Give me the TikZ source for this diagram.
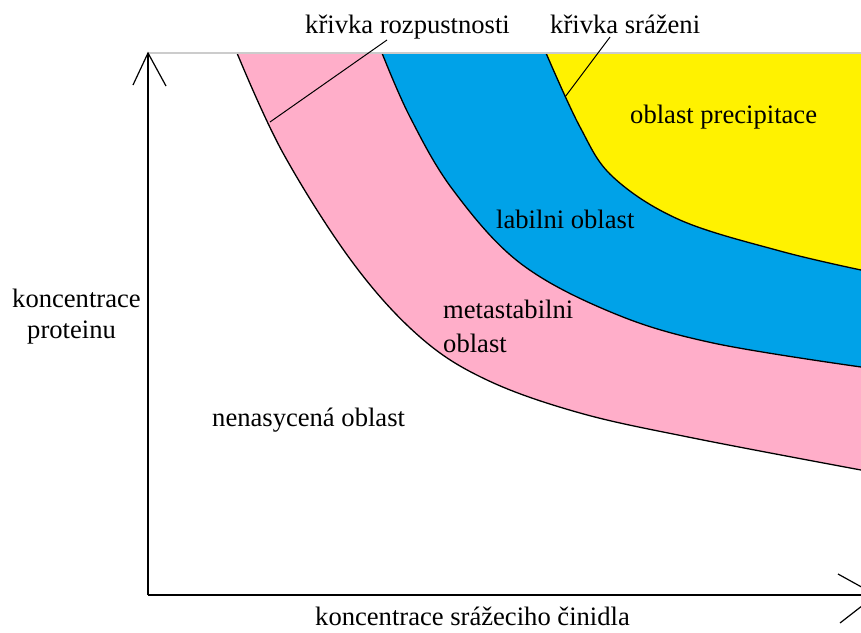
\documentclass[tikz,border=0pt]{standalone}
\usepackage{fontspec}
\setmainfont{Liberation Serif}
\definecolor{rosefill}{RGB}{255,174,201}
\definecolor{bluefill}{RGB}{0,162,232}
\definecolor{yellowfill}{RGB}{255,242,0}
\begin{document}
\begin{tikzpicture}[x=1pt,y=-1pt,
  lbl/.style={anchor=base west,inner sep=0pt,font=\fontsize{26.6}{30}\selectfont},
  boundary/.style={draw=black,line width=1.3pt},
  axisline/.style={draw=black,line width=1.8pt},
  leader/.style={draw=black,line width=1pt}]
\useasboundingbox (0,0) rectangle (861,632);
\def\curveA{(237,53) (283,153) (353,263) (420,337) (487,380) (580,413) (693,438) (861,470)}
\def\curveB{(382,53) (410,117) (453,190) (520,263) (613,313) (713,343) (861,367)}
\def\curveC{(546,53) (580,127) (613,177) (680,220) (780,251) (861,270)}
\begin{scope}
\clip (0,0) rectangle (861,632);
% regions
\fill[rosefill] plot[smooth,tension=0.6] coordinates {\curveA} -- (870,470) -- (870,53) -- cycle;
\fill[bluefill] plot[smooth,tension=0.6] coordinates {\curveB} -- (870,367) -- (870,53) -- cycle;
\fill[yellowfill] plot[smooth,tension=0.6] coordinates {\curveC} -- (870,270) -- (870,53) -- cycle;
% boundaries
\draw[boundary] plot[smooth,tension=0.6] coordinates {\curveA};
\draw[boundary] plot[smooth,tension=0.6] coordinates {\curveB};
\draw[boundary] plot[smooth,tension=0.6] coordinates {\curveC};
% top gray line
\coordinate (topL) at (148,53);
\coordinate (topR) at (861,53);
\draw[gray!40,line width=1.5pt] (topL) -- (topR);
% axes
\coordinate (origin) at (148,595);
\coordinate (yTip) at (148,53);
\coordinate (yArmL) at (133,85);
\coordinate (yArmR) at (166,86);
\coordinate (xTip) at (876,595);
\coordinate (xArmU) at (838,574);
\coordinate (xArmD) at (840,623);
\draw[axisline] (origin) -- (yTip);
\draw[axisline] (origin) -- (xTip);
\draw[black,line width=1.2pt] (yArmL) -- (yTip) -- (yArmR);
\draw[black,line width=1.2pt] (xArmU) -- (xTip) -- (xArmD);
\end{scope}
% labels
\node[lbl] (lr) at (305,33) {křivka rozpustnosti};
\node[lbl] (ls) at (550,33) {křivka sráženi};
\node[lbl] (prec) at (630,123) {oblast precipitace};
\node[lbl] (lab) at (496,228) {labilni oblast};
\node[lbl] (meta1) at (443,318) {metastabilni};
\node[lbl] (meta2) at (443,352) {oblast};
\node[lbl] (nen) at (212,426) {nenasycená oblast};
\node[lbl] (yl1) at (12,307) {koncentrace};
\node[lbl] (yl2) at (27,338) {proteinu};
\node[lbl] (xl) at (315,625) {koncentrace srážeciho činidla};
% leaders
\coordinate (lrA) at (387,40);
\coordinate (lrB) at (270,122);
\coordinate (lsA) at (610,37);
\coordinate (lsB) at (565,97);
\draw[leader] (lrA) -- (lrB);
\draw[leader] (lsA) -- (lsB);
\end{tikzpicture}
\end{document}
